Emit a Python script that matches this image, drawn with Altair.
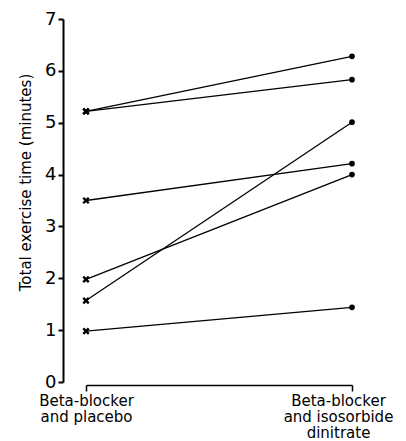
import json
import altair as alt
import pandas as pd

# Data
subjects = ["A", "B", "C", "D", "E", "F"]
placebo = [5.22, 5.22, 3.50, 1.98, 1.57, 0.98]
isosorbide = [6.28, 5.83, 4.21, 4.00, 5.01, 1.44]
conditions = [0, 1]
cond_labels = [["Beta-blocker", "and placebo"],
               ["Beta-blocker", "and isosorbide", "dinitrate"]]
y_ticks = [0, 1, 2, 3, 4, 5, 6, 7]
y_title = "Total exercise time (minutes)"

rows = []
for s, a, b in zip(subjects, placebo, isosorbide):
    rows.append({"subject": s, "cond": conditions[0], "value": a})
    rows.append({"subject": s, "cond": conditions[1], "value": b})
df = pd.DataFrame(rows)

FONT = "DejaVu Sans"
label_expr = "datum.value == 0 ? %s : %s" % (json.dumps(cond_labels[0]), json.dumps(cond_labels[1]))

x = alt.X("cond:Q",
          scale=alt.Scale(domain=[0, 1], nice=False, zero=False),
          axis=alt.Axis(values=conditions, labelExpr=label_expr, title=None,
                        grid=False, offset=3, tickSize=6, tickWidth=1.5,
                        domainWidth=1.5, domainColor="black", tickColor="black",
                        labelFontSize=15, labelLineHeight=16, labelPadding=2,
                        labelColor="black", labelFont=FONT, labelFlush=False,
                        labelAlign="center",
                        labelOffset={"condition": {"test": "datum.value == 1", "value": -14}, "value": 0}))
y = alt.Y("value:Q",
          scale=alt.Scale(domain=[0, 7], nice=False),
          axis=alt.Axis(values=y_ticks, title=y_title, grid=False, offset=23,
                        tickSize=5, tickWidth=2, domainWidth=2,
                        domainColor="black", tickColor="black",
                        labelFontSize=18, labelColor="black", labelFont=FONT,
                        labelPadding=2, labelFlush=False,
                        titleFontSize=15, titleFontWeight="normal", titleColor="black",
                        titleFont=FONT, titlePadding=11, titleY=163))

base = alt.Chart(df)

lines = base.mark_line(color="black", strokeWidth=1.3).encode(x=x, y=y, detail="subject:N")

crosses = base.transform_filter("datum.cond == 0").mark_point(
    shape="M-1,-1L1,1M-1,1L1,-1", filled=False, stroke="black",
    strokeWidth=2.4, size=30, opacity=1).encode(x=x, y=y)

dots = base.transform_filter("datum.cond == 1").mark_point(
    shape="circle", filled=True, color="black", size=32, opacity=1).encode(x=x, y=y)

chart = alt.layer(lines, crosses, dots).properties(
    width=266, height=363,
    autosize=alt.AutoSizeParams(type="none"),
    padding={"left": 78, "top": 11, "right": 46, "bottom": 59},
).configure(background="white").configure_view(stroke=None)

chart.save("out.html", embed_options={"renderer": "svg", "actions": False})
